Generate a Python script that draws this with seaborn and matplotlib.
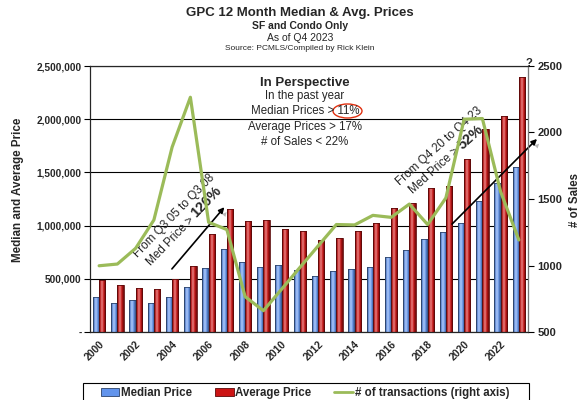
import numpy as np
import pandas as pd
import seaborn as sns
import matplotlib.pyplot as plt
import matplotlib.patheffects as pe
from matplotlib.patches import Ellipse, Patch, Rectangle
from matplotlib.lines import Line2D
from matplotlib.colors import to_rgb
from matplotlib.ticker import FuncFormatter, FixedLocator

years = list(range(2000, 2024))
median_price = [332, 275, 301, 270, 332, 426, 598, 777, 655, 608, 630, 580,
                526, 572, 589, 608, 702, 768, 871, 940, 1027, 1231, 1397, 1554]
average_price = [489, 442, 417, 401, 498, 623, 918, 1153, 1043, 1051, 965, 948,
                 863, 886, 949, 1021, 1162, 1209, 1353, 1369, 1623, 1905, 2033, 2394]
transactions = [998, 1011, 1129, 1342, 1890, 2265, 1325, 1270, 766, 660, 822, 985,
                1147, 1308, 1305, 1377, 1362, 1462, 1308, 1508, 2100, 2105, 1555, 1192]
year_labels = [str(y) if y % 2 == 0 else "" for y in years]

BLUE = "#6294EC"
RED = "#CC1414"
GREEN = "#9BBB59"

sns.set_style("white")
plt.rcParams['font.family'] = ['Liberation Sans', 'DejaVu Sans']

df = pd.DataFrame({
    "year": [str(y) for y in years] * 2,
    "price": [v * 1000 for v in median_price] + [v * 1000 for v in average_price],
    "kind": ["Median Price"] * len(years) + ["Average Price"] * len(years),
})

fig = plt.figure(figsize=(5.85, 4.0), dpi=100)
ax = fig.add_axes([90 / 585, 68 / 400, 438 / 585, 266 / 400])

sns.barplot(data=df, x="year", y="price", hue="kind", ax=ax, width=0.68,
            palette={"Median Price": BLUE, "Average Price": RED},
            linewidth=0, saturation=1, legend=False)

# give the bars the glossy left-dark / centre-light look of the original
def shade(c, k):
    r, g, b = c
    if k >= 0:
        return (r + (1 - r) * k, g + (1 - g) * k, b + (1 - b) * k)
    return (r * (1 + k), g * (1 + k), b * (1 + k))

prof = np.array([-0.45, -0.2, 0.15, 0.4, 0.45, 0.3, 0.05, -0.15, -0.3, -0.45])
for bar in list(ax.patches):
    base = to_rgb(bar.get_facecolor())
    grad = np.array([[shade(base, k) for k in prof]])
    x0, y0 = bar.get_x(), bar.get_y()
    w, h = bar.get_width(), bar.get_height()
    im = ax.imshow(grad, extent=(x0, x0 + w, y0, y0 + h), aspect="auto",
                   interpolation="bicubic", zorder=bar.get_zorder())
    im.set_clip_path(bar)
    edge = shade(base, -0.55)
    bar.set_edgecolor(edge)
    bar.set_linewidth(0.6)
    bar.set_facecolor("none")
    bar.set_zorder(bar.get_zorder() + 0.1)

ax.set_xlim(-0.5, len(years) - 0.5)
ax.set_ylim(0, 2500000)
ax.set_aspect("auto")
ax.set_yticks(np.arange(0, 2500001, 500000))
ax.yaxis.set_major_formatter(FuncFormatter(lambda v, p: "-" if v == 0 else f"{v:,.0f}"))
ax.yaxis.grid(True, color="black", linewidth=0.8)
ax.set_axisbelow(True)
ax.set_xlabel("")
ax.set_ylabel("")
ax.set_xticks(range(len(years)))
ax.set_xticklabels(year_labels, rotation=45, ha="right", rotation_mode="anchor",
                   fontsize=7.5, fontweight="bold")
ax.xaxis.set_minor_locator(FixedLocator(np.arange(-0.5, len(years), 1)))
ax.tick_params(axis="x", which="major", length=0, pad=5)
ax.tick_params(axis="x", which="minor", length=3, width=0.8, color="black")
ax.tick_params(axis="y", length=4, width=0.8, color="black", labelsize=7.2, pad=2)
for lab in ax.get_yticklabels():
    lab.set_fontweight("bold")
for s in ax.spines.values():
    s.set_color("black")
    s.set_linewidth(0.8)

ax2 = ax.twinx()
sns.lineplot(x=np.arange(len(years)), y=transactions, ax=ax2, color=GREEN,
             linewidth=2.3)
ax2.set_ylim(500, 2500)
ax2.set_yticks(np.arange(500, 2501, 500))
ax2.tick_params(axis="y", length=4, width=0.8, color="black", labelsize=8, pad=3)
for lab in ax2.get_yticklabels():
    lab.set_fontweight("bold")
ax2.spines["right"].set_color("#777777")
ax2.set_ylabel("")
ax2.set_xlim(-0.5, len(years) - 0.5)

# titles
fig.text(0.513, 0.9675, "GPC 12 Month Median & Avg. Prices", ha="center", va="center",
         fontsize=9.5, fontweight="bold")
fig.text(0.513, 0.935, "SF and Condo Only", ha="center", va="center",
         fontsize=7.5, fontweight="bold")
fig.text(0.513, 0.905, "As of Q4 2023", ha="center", va="center", fontsize=7.5)
fig.text(0.513, 0.8775, "Source: PCMLS/Compiled by Rick Klein", ha="center",
         va="center", fontsize=6)
fig.text(529 / 585, 1 - 63 / 400, "?", ha="center", va="center", fontsize=8,
         fontweight="bold")

fig.text(18 / 585, 1 - 190 / 400, "Median and Average Price", rotation=90, ha="center",
         va="center", fontsize=8.4, fontweight="bold")
fig.text(575 / 585, 0.5, "# of Sales", rotation=90, ha="center", va="center",
         fontsize=8.3, fontweight="bold")

# in perspective box
fig.text(0.521, 1 - 83 / 400, "In Perspective", ha="center", va="center",
         fontsize=9.5, fontweight="bold")
fig.text(0.521, 1 - 96 / 400, "In the past year", ha="center", va="center", fontsize=8.3)
fig.text(0.521, 1 - 111 / 400, "Median Prices > 11%", ha="center", va="center", fontsize=8.3)
fig.text(0.521, 1 - 127 / 400, "Average Prices > 17%", ha="center", va="center", fontsize=8.3)
fig.text(0.521, 1 - 142 / 400, "# of Sales < 22%", ha="center", va="center", fontsize=8.3)
fig.patches.append(Ellipse((347.5 / 585, 1 - 111 / 400), 29 / 585, 14 / 400,
                           transform=fig.transFigure, fill=False,
                           edgecolor="#E03010", linewidth=1))

# arrows + rotated notes
shadow = [pe.SimplePatchShadow(offset=(2.5, -2.5), shadow_rgbFace="#888888", alpha=0.6),
          pe.Normal()]
for (x0, y0), (x1, y1) in [((3.89, 573000), (6.96, 1193000)),
                           ((19.23, 996000), (24.1, 1833000))]:
    a = ax.annotate("", xy=(x1, y1), xytext=(x0, y0),
                    arrowprops=dict(arrowstyle="-|>", color="black", lw=1.2,
                                    mutation_scale=8),
                    annotation_clip=False)
    a.arrow_patch.set_path_effects(shadow)

ax.text(4.10, 1090000, "From Q3 05 to Q3 08", rotation=46, rotation_mode="anchor",
        ha="center", va="center", fontsize=8.5)
ax.text(5.34, 1068000, "Med Price > ", rotation=46, rotation_mode="anchor",
        ha="right", va="baseline", fontsize=8.5)
ax.text(5.34, 1068000, "126%", rotation=46, rotation_mode="anchor",
        ha="left", va="baseline", fontsize=10.5, fontweight="bold")
ax.text(18.63, 1748000, "From Q4 20 to Q4 23", rotation=42, rotation_mode="anchor",
        ha="center", va="center", fontsize=8.5)
ax.text(19.90, 1710000, "Med Price > ", rotation=42, rotation_mode="anchor",
        ha="right", va="baseline", fontsize=8.5)
ax.text(19.90, 1710000, "52%", rotation=42, rotation_mode="anchor",
        ha="left", va="baseline", fontsize=10.5, fontweight="bold")

# legend (frame drawn separately so it can be wider than its entries)
handles = [Patch(facecolor=BLUE, edgecolor=shade(to_rgb(BLUE), -0.55), linewidth=0.6),
           Patch(facecolor=RED, edgecolor=shade(to_rgb(RED), -0.55), linewidth=0.6),
           Line2D([], [], color=GREEN, linewidth=2)]
leg = fig.legend(handles, ["Median Price", "Average Price", "# of transactions (right axis)"],
                 loc="upper center", bbox_to_anchor=(0.5214, 1 - 383 / 400),
                 ncol=3, frameon=False,
                 prop={"weight": "bold", "size": 8.3}, handlelength=1.6,
                 handleheight=0.7, handletextpad=0.15, columnspacing=2.0,
                 borderpad=0.35, borderaxespad=0)
fig.patches.append(Rectangle((83 / 585, -0.02), 446 / 585, 1 - 383 / 400 + 0.02,
                             transform=fig.transFigure, fill=False,
                             edgecolor="black", linewidth=0.8))

fig.savefig("out.png", dpi=100)
